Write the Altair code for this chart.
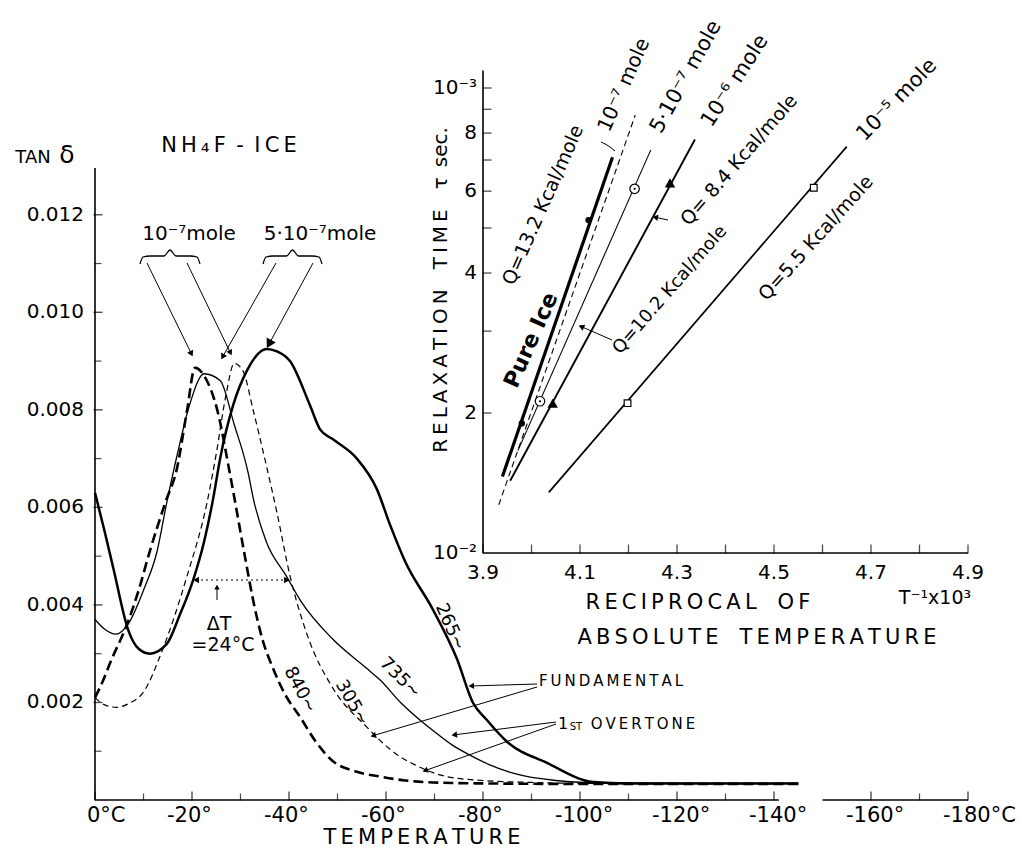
import math
import altair as alt
import pandas as pd

FONT = "DejaVu Sans"
THIN = "\u2009"
GAP = "\u2002\u2002"


def sp(s):
    """Letter-spaced version of a label (the original uses wide lettering)."""
    return THIN.join(s)


# ---------------- main chart: degrees below 0 °C vs tan delta ----------------
cool_840 = [0, 1, 3.5, 6.6, 9, 11.3, 14.5, 16.9, 19, 20.6, 22.5, 25.2, 27.8, 30.9, 32.6, 34.5, 36.7, 39, 42.3, 45.5, 49, 54, 59.4, 64, 69.7, 80, 100, 125, 145]
tan_840 = [0.0021, 0.0023, 0.0029, 0.0036, 0.0043, 0.0051, 0.0061, 0.0068, 0.0080, 0.00886, 0.0087, 0.0080, 0.0067, 0.0050, 0.0041, 0.0033, 0.0027, 0.0022, 0.0017, 0.0012, 0.0008, 0.00058, 0.00047, 0.0004, 0.00036, 0.00034, 0.00033, 0.00033, 0.00033]

cool_305 = [0, 2, 4.5, 7, 9.9, 14, 19, 23.1, 25, 27, 28.7, 30.5, 32.6, 35, 37.5, 40.2, 43.7, 49, 56, 59, 62, 66, 72.5, 80, 90, 100, 125, 145]
tan_305 = [0.0021, 0.00195, 0.0019, 0.00198, 0.0022, 0.0031, 0.0046, 0.0061, 0.0071, 0.0083, 0.00895, 0.0088, 0.0080, 0.0070, 0.0059, 0.0046, 0.0034, 0.0023, 0.0015, 0.0012, 0.00095, 0.00072, 0.00048, 0.0004, 0.00036, 0.00034, 0.00033, 0.00033]

cool_735 = [0, 2, 4.3, 6.8, 10, 12.8, 14.8, 17, 19.5, 22.5, 25.8, 28.7, 31.6, 32.6, 35.3, 39.4, 42.3, 49, 56, 58.8, 63, 67, 70, 73.6, 77.3, 81.4, 86.2, 95, 105, 125, 145]
tan_735 = [0.0037, 0.0035, 0.0034, 0.0036, 0.0043, 0.0051, 0.0061, 0.0071, 0.0081, 0.00874, 0.0086, 0.0077, 0.0067, 0.0062, 0.0053, 0.0046, 0.0041, 0.0033, 0.0027, 0.00246, 0.0020, 0.00164, 0.0014, 0.00113, 0.00092, 0.00072, 0.00055, 0.0004, 0.00035, 0.00034, 0.00034]

cool_265 = [0, 2, 3.9, 6.8, 9, 11.3, 14.8, 17.5, 20.2, 22.5, 24.4, 25.8, 28.5, 31.3, 35.4, 37.5, 40.2, 44.3, 46.4, 49, 54, 58, 61, 63.9, 69.7, 74.6, 77.9, 80.8, 84.9, 93.2, 102.7, 110, 125, 145]
tan_265 = [0.0063, 0.0055, 0.0047, 0.0035, 0.0031, 0.0030, 0.0032, 0.0038, 0.0045, 0.0053, 0.0062, 0.0070, 0.0081, 0.0088, 0.00925, 0.0092, 0.0090, 0.0081, 0.0076, 0.0074, 0.0070, 0.0064, 0.0056, 0.0049, 0.0039, 0.0029, 0.0020, 0.00164, 0.0012, 0.00076, 0.00037, 0.00034, 0.00034, 0.00034]

x_ticks_major = [0, 20, 40, 60, 80, 100, 120, 140, 160, 180]
x_ticks_minor = [10, 30, 50, 70, 90, 110, 130, 170]
x_tick_labels = ["0°C", "-20°", "-40°", "-60°", "-80°", "-100°", "-120°", "-140°", "-160°", "-180°C"]
y_ticks_major = [0.002, 0.004, 0.006, 0.008, 0.010, 0.012]
y_ticks_minor = [0.001, 0.003, 0.005, 0.007, 0.009, 0.011]
y_tick_labels = ["0.002", "0.004", "0.006", "0.008", "0.010", "0.012"]

# ---------------- inset: reciprocal temperature vs relaxation time ----------------
rx_ice_line = [3.94, 4.167]
tau_ice_line = [1.46, 7.1]
rx_ice_pts = [3.980, 4.1175]
tau_ice_pts = [1.90, 5.2]

rx_m7_line = [3.9326, 4.214]
tau_m7_line = [1.27, 8.75]

rx_5m7_line = [3.972, 4.246]
tau_5m7_line = [1.66, 7.36]
rx_5m7_pts = [4.0175, 4.2126]
tau_5m7_pts = [2.12, 6.07]

rx_m6_line = [3.956, 4.337]
tau_m6_line = [1.43, 7.75]
rx_m6_pts = [4.0437, 4.2856]
tau_m6_pts = [2.1, 6.25]

rx_m5_line = [4.0357, 4.65]
tau_m5_line = [1.35, 7.48]
rx_m5_pts = [4.198, 4.582]
tau_m5_pts = [2.1, 6.1]

rx_ticks = [3.9, 4.0, 4.1, 4.2, 4.3, 4.4, 4.5, 4.6, 4.7, 4.8, 4.9]
rx_labels_at = [3.9, 4.1, 4.3, 4.5, 4.7, 4.9]
rx_labels = ["3.9", "4.1", "4.3", "4.5", "4.7", "4.9"]
tau_ticks = [2, 3, 4, 5, 6, 7, 8, 9, 10]
tau_labels_at = [1, 2, 4, 6, 8, 10]
tau_labels = ["10⁻²", "2", "4", "6", "8", "10⁻³"]


# ---------------- scales ----------------
def MX():
    return alt.X("cool:Q", scale=alt.Scale(domain=[0, 180], range=[95, 968], nice=False, zero=False), axis=None)


def MY():
    return alt.Y("tan:Q", scale=alt.Scale(domain=[0, 0.013], range=[800, 166], nice=False, zero=False), axis=None)


def IX():
    return alt.X("rx:Q", scale=alt.Scale(domain=[3.9, 4.9], range=[483, 968], nice=False, zero=False), axis=None)


def IY():
    return alt.Y("tau:Q", scale=alt.Scale(type="log", domain=[1, 10], range=[553, 88], nice=False, zero=False), axis=None)


def PX(f="px"):
    return alt.X(f + ":Q", scale=alt.Scale(domain=[0, 1019], range=[0, 1019], nice=False, zero=False), axis=None)


def PY(f="py"):
    return alt.Y(f + ":Q", scale=alt.Scale(domain=[0, 850], range=[0, 850], nice=False, zero=False), axis=None)


layers = []

# ---------- main curves ----------
curve_styles = [
    (cool_840, tan_840, 2.6, [10, 5]),
    (cool_305, tan_305, 1.2, [6, 4]),
    (cool_735, tan_735, 1.3, None),
    (cool_265, tan_265, 2.5, None),
]
for c, t, w, dash in curve_styles:
    df = pd.DataFrame({"cool": c, "tan": t})
    kw = dict(interpolate="monotone", color="black", strokeWidth=w)
    if dash:
        kw["strokeDash"] = dash
    layers.append(alt.Chart(df).mark_line(**kw).encode(x=MX(), y=MY()))

# ---------- main axes ----------
ax_df = pd.DataFrame({"cool": [0, 0, 150], "cool2": [0, 141, 180], "tan": [0, 0, 0], "tan2": [0.01296, 0, 0]})
layers.append(alt.Chart(ax_df).mark_rule(color="black", strokeWidth=1.6).encode(
    x=MX(), x2="cool2:Q", y=MY(), y2="tan2:Q"))

layers.append(alt.Chart(pd.DataFrame({"cool": x_ticks_major, "tan": [0] * len(x_ticks_major)}))
              .mark_tick(orient="vertical", size=9, yOffset=-4, color="black", thickness=1.4)
              .encode(x=MX(), y=MY()))
layers.append(alt.Chart(pd.DataFrame({"cool": x_ticks_minor, "tan": [0] * len(x_ticks_minor)}))
              .mark_tick(orient="vertical", size=7, yOffset=-3, color="black", thickness=1.2)
              .encode(x=MX(), y=MY()))
layers.append(alt.Chart(pd.DataFrame({"cool": [0] * 6, "tan": y_ticks_major}))
              .mark_tick(orient="horizontal", size=9, xOffset=3, color="black", thickness=1.4)
              .encode(x=MX(), y=MY()))
layers.append(alt.Chart(pd.DataFrame({"cool": [0] * 6, "tan": y_ticks_minor}))
              .mark_tick(orient="horizontal", size=7, xOffset=3, color="black", thickness=1.2)
              .encode(x=MX(), y=MY()))

layers.append(alt.Chart(pd.DataFrame({"cool": [0] * 6, "tan": y_ticks_major, "lab": y_tick_labels}))
              .mark_text(font=FONT, fontSize=20, align="right", baseline="middle", color="black")
              .encode(x=alt.value(84), y=MY(), text="lab:N"))
xl = pd.DataFrame({"cool": x_ticks_major, "tan": [0] * 10, "lab": x_tick_labels})
layers.append(alt.Chart(xl.iloc[1:]).mark_text(font=FONT, fontSize=21, align="left", baseline="middle", dx=-25, color="black")
              .encode(x=MX(), y=alt.value(816), text="lab:N"))
layers.append(alt.Chart(xl.iloc[:1]).mark_text(font=FONT, fontSize=21, align="left", baseline="middle", dx=-8, color="black")
              .encode(x=MX(), y=alt.value(816), text="lab:N"))

# ---------- inset lines & markers ----------
inset_lines = [
    (rx_ice_line, tau_ice_line, 3.2, None),
    (rx_m7_line, tau_m7_line, 1.1, [6, 4]),
    (rx_5m7_line, tau_5m7_line, 1.1, None),
    (rx_m6_line, tau_m6_line, 1.9, None),
    (rx_m5_line, tau_m5_line, 1.7, None),
]
for r, t, w, dash in inset_lines:
    df = pd.DataFrame({"rx": r, "tau": t})
    kw = dict(color="black", strokeWidth=w)
    if dash:
        kw["strokeDash"] = dash
    layers.append(alt.Chart(df).mark_line(**kw).encode(x=IX(), y=IY()))

layers.append(alt.Chart(pd.DataFrame({"rx": rx_ice_pts, "tau": tau_ice_pts}))
              .mark_point(shape="circle", filled=True, size=40, color="black", opacity=1).encode(x=IX(), y=IY()))
layers.append(alt.Chart(pd.DataFrame({"rx": rx_5m7_pts, "tau": tau_5m7_pts}))
              .mark_point(shape="circle", filled=True, size=90, fill="white", stroke="black", strokeWidth=1.2, opacity=1)
              .encode(x=IX(), y=IY()))
layers.append(alt.Chart(pd.DataFrame({"rx": rx_5m7_pts, "tau": tau_5m7_pts}))
              .mark_point(shape="circle", filled=True, size=5, color="black", opacity=1).encode(x=IX(), y=IY()))
layers.append(alt.Chart(pd.DataFrame({"rx": rx_m6_pts, "tau": tau_m6_pts}))
              .mark_point(shape="triangle-up", filled=True, size=110, color="black", opacity=1).encode(x=IX(), y=IY()))
layers.append(alt.Chart(pd.DataFrame({"rx": rx_m5_pts, "tau": tau_m5_pts}))
              .mark_point(shape="square", filled=True, size=45, fill="white", stroke="black", strokeWidth=1.2, opacity=1)
              .encode(x=IX(), y=IY()))

# ---------- inset axes ----------
layers.append(alt.Chart(pd.DataFrame({"rx": [3.9, 3.9], "rx2": [3.9, 4.9], "tau": [1, 1], "tau2": [10.9, 1]}))
              .mark_rule(color="black", strokeWidth=1.6).encode(x=IX(), x2="rx2:Q", y=IY(), y2="tau2:Q"))
layers.append(alt.Chart(pd.DataFrame({"rx": rx_ticks, "tau": [1] * len(rx_ticks)}))
              .mark_tick(orient="vertical", size=9, yOffset=-4, color="black", thickness=1.3).encode(x=IX(), y=IY()))
layers.append(alt.Chart(pd.DataFrame({"rx": [3.9] * len(tau_ticks), "tau": tau_ticks}))
              .mark_tick(orient="horizontal", size=9, xOffset=4, color="black", thickness=1.3).encode(x=IX(), y=IY()))
layers.append(alt.Chart(pd.DataFrame({"rx": rx_labels_at, "tau": [1] * 6, "lab": rx_labels}))
              .mark_text(font=FONT, fontSize=20, align="center", baseline="middle", color="black")
              .encode(x=IX(), y=alt.value(573), text="lab:N"))
layers.append(alt.Chart(pd.DataFrame({"rx": [3.9] * 6, "tau": tau_labels_at, "lab": tau_labels}))
              .mark_text(font=FONT, fontSize=20, align="right", baseline="middle", color="black")
              .encode(x=alt.value(477), y=IY(), text="lab:N"))


# ---------- annotations in page pixels ----------
def brace(x0, x1, ytop, yend):
    xm = (x0 + x1) / 2
    xs = [x0, x0 + 3, x0 + 10, xm - 6, xm, xm + 6, x1 - 10, x1 - 3, x1]
    ys = [yend, ytop + 1, ytop, ytop, ytop - 6, ytop, ytop, ytop + 1, yend]
    return xs, ys


bx, by = brace(140, 200, 256, 264)
layers.append(alt.Chart(pd.DataFrame({"px": bx, "py": by})).mark_line(color="black", strokeWidth=1.3, interpolate="monotone")
              .encode(x=PX(), y=PY()))
bx, by = brace(263, 322, 256, 264)
layers.append(alt.Chart(pd.DataFrame({"px": bx, "py": by})).mark_line(color="black", strokeWidth=1.3, interpolate="monotone")
              .encode(x=PX(), y=PY()))

arrows = [
    (147, 263, 192, 355, 45),
    (187, 263, 231, 354, 40),
    (276, 263, 222, 358, 45),
    (313, 263, 268, 346, 110),
    (537, 684, 470, 686, 40),
    (537, 687, 372, 736, 40),
    (556, 722, 453, 735, 40),
    (556, 724, 424, 771, 40),
    (612, 340, 580, 326, 45),
    (668, 220, 654, 217, 40),
    (217, 600, 217, 586, 30),
]
seg = pd.DataFrame({"px": [a[0] for a in arrows], "py": [a[1] for a in arrows],
                    "px2": [a[2] for a in arrows], "py2": [a[3] for a in arrows]})
layers.append(alt.Chart(seg).mark_rule(color="black", strokeWidth=1.0).encode(x=PX(), y=PY(), x2="px2:Q", y2="py2:Q"))

heads = []
for x1, y1, x2, y2, s in arrows:
    dx, dy = x2 - x1, y2 - y1
    L = math.hypot(dx, dy)
    ang = math.degrees(math.atan2(dx, -dy)) % 360
    back = 0.35 * math.sqrt(s)
    heads.append({"px": x2 - dx / L * back, "py": y2 - dy / L * back, "ang": ang, "s": s})
layers.append(alt.Chart(pd.DataFrame(heads)).mark_point(shape="triangle", filled=True, color="black", opacity=1)
              .encode(x=PX(), y=PY(), angle=alt.Angle("ang:Q", scale=None), size=alt.Size("s:Q", scale=None)))

# delta T dotted line with end arrows
layers.append(alt.Chart(pd.DataFrame({"px": [196], "px2": [287], "py": [580]}))
              .mark_rule(color="black", strokeWidth=1.1, strokeDash=[2, 3]).encode(x=PX(), x2="px2:Q", y=PY()))
layers.append(alt.Chart(pd.DataFrame({"px": [197, 286], "py": [580, 580], "ang": [270, 90]}))
              .mark_point(shape="triangle", filled=True, color="black", size=45, opacity=1)
              .encode(x=PX(), y=PY(), angle=alt.Angle("ang:Q", scale=None)))

# 10^-7 mole leader in inset
layers.append(alt.Chart(pd.DataFrame({"px": [601, 607, 615], "py": [142, 145, 151]}))
              .mark_line(color="black", strokeWidth=1.0, interpolate="monotone").encode(x=PX(), y=PY()))

texts = [
    ("TAN", 33, 158, 18, 0),
    ("δ", 67, 155, 25, 0),
    (sp("NH₄F") + "\u2002-\u2002" + sp("ICE"), 229, 146, 21, 0),
    ("10⁻⁷mole", 189, 234, 20, 0),
    ("5·10⁻⁷mole", 320, 234, 20, 0),
    ("ΔT", 219, 624, 19, 0),
    ("=24°C", 223, 645, 19, 0),
    ("840~", 300, 690, 18, 62),
    ("305~", 352, 703, 18, 60),
    ("735~", 400, 678, 18, 45),
    ("265~", 450, 627, 18, 66),
    (sp("FUNDAMENTAL"), 611, 681, 15, 0),
    ("1", 563, 724, 16, 0),
    ("ST", 576, 727, 10, 0),
    (sp("OVERTONE"), 643, 724, 15, 0),
    (sp("TEMPERATURE"), 422, 838, 21, 0),
    (sp("RECIPROCAL") + GAP + sp("OF"), 698, 603, 21, 0),
    (sp("ABSOLUTE") + GAP + sp("TEMPERATURE"), 757, 638, 21, 0),
    ("T⁻¹x10³", 935, 598, 19, 0),
    (sp("RELAXATION") + GAP + sp("TIME") + GAP + "τ\u2002sec.", 441, 290, 20, 270),
    ("10⁻⁷ mole", 624, 85, 20, 294),
    ("5·10⁻⁷ mole", 686, 77, 21, 299),
    ("10⁻⁶ mole", 735, 81, 21, 303),
    ("10⁻⁵ mole", 897, 100, 21, 314),
    ("Q=13.2 Kcal/mole", 543, 205, 19, 294),
    ("Q= 8.4 Kcal/mole", 739, 160, 19, 311),
    ("Q=10.2 Kcal/mole", 670, 290, 18, 311),
    ("Q=5.5 Kcal/mole", 816, 238, 19, 312),
]
tdf = pd.DataFrame(texts, columns=["txt", "px", "py", "fs", "ang"])
layers.append(alt.Chart(tdf).mark_text(font=FONT, align="center", baseline="middle", color="black")
              .encode(x=PX(), y=PY(), text="txt:N", size=alt.Size("fs:Q", scale=None), angle=alt.Angle("ang:Q", scale=None)))
layers.append(alt.Chart(pd.DataFrame({"txt": ["Pure Ice"], "px": [531], "py": [340]}))
              .mark_text(font=FONT, fontSize=22, fontWeight="bold", angle=294, align="center", baseline="middle", color="black")
              .encode(x=PX(), y=PY(), text="txt:N"))

chart = alt.layer(*layers).resolve_scale(x="independent", y="independent").properties(
    width=1019, height=850, padding=0, autosize=alt.AutoSizeParams(type="none"), background="white"
).configure_view(strokeWidth=0)

chart.save("out.html", embed_options={"renderer": "svg", "actions": False})
